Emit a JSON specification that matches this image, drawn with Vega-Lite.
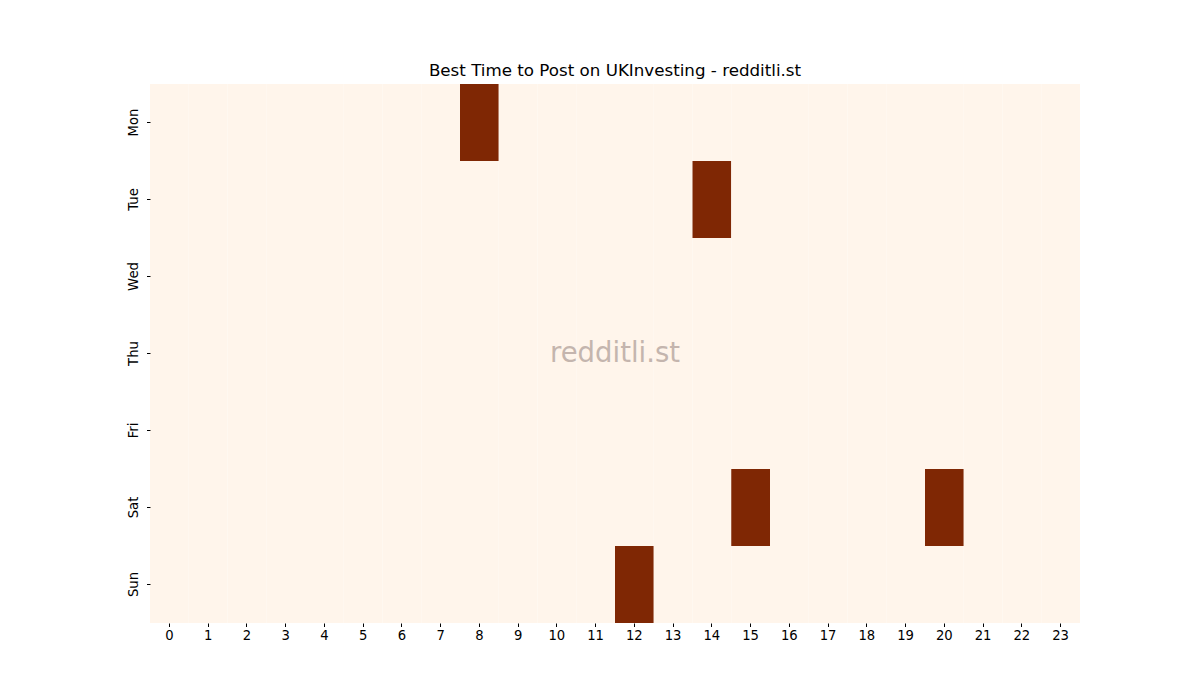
{
  "$schema": "https://vega.github.io/schema/vega-lite/v6.json",
  "autosize": {"type": "none"},
  "width": 930,
  "height": 539,
  "padding": {"left": 150, "top": 84, "right": 120, "bottom": 77},
  "background": "white",
  "title": {"text": "Best Time to Post on UKInvesting - redditli.st", "font": "DejaVu Sans", "fontSize": 16.7, "fontWeight": "normal", "color": "black", "offset": 4, "anchor": "middle"},
  "config": {
    "view": {"stroke": null},
    "axis": {"domain": false, "grid": false, "tickSize": 3.5, "tickColor": "black", "tickWidth": 1, "labelFont": "DejaVu Sans", "labelFontSize": 13.2, "labelColor": "black", "labelPadding": 3, "title": null}
  },
  "datasets": {
    "cells": [
    {"d":"Mon","h":0,"v":0},{"d":"Mon","h":1,"v":0},{"d":"Mon","h":2,"v":0},{"d":"Mon","h":3,"v":0},{"d":"Mon","h":4,"v":0},{"d":"Mon","h":5,"v":0},{"d":"Mon","h":6,"v":0},{"d":"Mon","h":7,"v":0},{"d":"Mon","h":8,"v":1},{"d":"Mon","h":9,"v":0},{"d":"Mon","h":10,"v":0},{"d":"Mon","h":11,"v":0},{"d":"Mon","h":12,"v":0},{"d":"Mon","h":13,"v":0},{"d":"Mon","h":14,"v":0},{"d":"Mon","h":15,"v":0},{"d":"Mon","h":16,"v":0},{"d":"Mon","h":17,"v":0},{"d":"Mon","h":18,"v":0},{"d":"Mon","h":19,"v":0},{"d":"Mon","h":20,"v":0},{"d":"Mon","h":21,"v":0},{"d":"Mon","h":22,"v":0},{"d":"Mon","h":23,"v":0},
    {"d":"Tue","h":0,"v":0},{"d":"Tue","h":1,"v":0},{"d":"Tue","h":2,"v":0},{"d":"Tue","h":3,"v":0},{"d":"Tue","h":4,"v":0},{"d":"Tue","h":5,"v":0},{"d":"Tue","h":6,"v":0},{"d":"Tue","h":7,"v":0},{"d":"Tue","h":8,"v":0},{"d":"Tue","h":9,"v":0},{"d":"Tue","h":10,"v":0},{"d":"Tue","h":11,"v":0},{"d":"Tue","h":12,"v":0},{"d":"Tue","h":13,"v":0},{"d":"Tue","h":14,"v":1},{"d":"Tue","h":15,"v":0},{"d":"Tue","h":16,"v":0},{"d":"Tue","h":17,"v":0},{"d":"Tue","h":18,"v":0},{"d":"Tue","h":19,"v":0},{"d":"Tue","h":20,"v":0},{"d":"Tue","h":21,"v":0},{"d":"Tue","h":22,"v":0},{"d":"Tue","h":23,"v":0},
    {"d":"Wed","h":0,"v":0},{"d":"Wed","h":1,"v":0},{"d":"Wed","h":2,"v":0},{"d":"Wed","h":3,"v":0},{"d":"Wed","h":4,"v":0},{"d":"Wed","h":5,"v":0},{"d":"Wed","h":6,"v":0},{"d":"Wed","h":7,"v":0},{"d":"Wed","h":8,"v":0},{"d":"Wed","h":9,"v":0},{"d":"Wed","h":10,"v":0},{"d":"Wed","h":11,"v":0},{"d":"Wed","h":12,"v":0},{"d":"Wed","h":13,"v":0},{"d":"Wed","h":14,"v":0},{"d":"Wed","h":15,"v":0},{"d":"Wed","h":16,"v":0},{"d":"Wed","h":17,"v":0},{"d":"Wed","h":18,"v":0},{"d":"Wed","h":19,"v":0},{"d":"Wed","h":20,"v":0},{"d":"Wed","h":21,"v":0},{"d":"Wed","h":22,"v":0},{"d":"Wed","h":23,"v":0},
    {"d":"Thu","h":0,"v":0},{"d":"Thu","h":1,"v":0},{"d":"Thu","h":2,"v":0},{"d":"Thu","h":3,"v":0},{"d":"Thu","h":4,"v":0},{"d":"Thu","h":5,"v":0},{"d":"Thu","h":6,"v":0},{"d":"Thu","h":7,"v":0},{"d":"Thu","h":8,"v":0},{"d":"Thu","h":9,"v":0},{"d":"Thu","h":10,"v":0},{"d":"Thu","h":11,"v":0},{"d":"Thu","h":12,"v":0},{"d":"Thu","h":13,"v":0},{"d":"Thu","h":14,"v":0},{"d":"Thu","h":15,"v":0},{"d":"Thu","h":16,"v":0},{"d":"Thu","h":17,"v":0},{"d":"Thu","h":18,"v":0},{"d":"Thu","h":19,"v":0},{"d":"Thu","h":20,"v":0},{"d":"Thu","h":21,"v":0},{"d":"Thu","h":22,"v":0},{"d":"Thu","h":23,"v":0},
    {"d":"Fri","h":0,"v":0},{"d":"Fri","h":1,"v":0},{"d":"Fri","h":2,"v":0},{"d":"Fri","h":3,"v":0},{"d":"Fri","h":4,"v":0},{"d":"Fri","h":5,"v":0},{"d":"Fri","h":6,"v":0},{"d":"Fri","h":7,"v":0},{"d":"Fri","h":8,"v":0},{"d":"Fri","h":9,"v":0},{"d":"Fri","h":10,"v":0},{"d":"Fri","h":11,"v":0},{"d":"Fri","h":12,"v":0},{"d":"Fri","h":13,"v":0},{"d":"Fri","h":14,"v":0},{"d":"Fri","h":15,"v":0},{"d":"Fri","h":16,"v":0},{"d":"Fri","h":17,"v":0},{"d":"Fri","h":18,"v":0},{"d":"Fri","h":19,"v":0},{"d":"Fri","h":20,"v":0},{"d":"Fri","h":21,"v":0},{"d":"Fri","h":22,"v":0},{"d":"Fri","h":23,"v":0},
    {"d":"Sat","h":0,"v":0},{"d":"Sat","h":1,"v":0},{"d":"Sat","h":2,"v":0},{"d":"Sat","h":3,"v":0},{"d":"Sat","h":4,"v":0},{"d":"Sat","h":5,"v":0},{"d":"Sat","h":6,"v":0},{"d":"Sat","h":7,"v":0},{"d":"Sat","h":8,"v":0},{"d":"Sat","h":9,"v":0},{"d":"Sat","h":10,"v":0},{"d":"Sat","h":11,"v":0},{"d":"Sat","h":12,"v":0},{"d":"Sat","h":13,"v":0},{"d":"Sat","h":14,"v":0},{"d":"Sat","h":15,"v":1},{"d":"Sat","h":16,"v":0},{"d":"Sat","h":17,"v":0},{"d":"Sat","h":18,"v":0},{"d":"Sat","h":19,"v":0},{"d":"Sat","h":20,"v":1},{"d":"Sat","h":21,"v":0},{"d":"Sat","h":22,"v":0},{"d":"Sat","h":23,"v":0},
    {"d":"Sun","h":0,"v":0},{"d":"Sun","h":1,"v":0},{"d":"Sun","h":2,"v":0},{"d":"Sun","h":3,"v":0},{"d":"Sun","h":4,"v":0},{"d":"Sun","h":5,"v":0},{"d":"Sun","h":6,"v":0},{"d":"Sun","h":7,"v":0},{"d":"Sun","h":8,"v":0},{"d":"Sun","h":9,"v":0},{"d":"Sun","h":10,"v":0},{"d":"Sun","h":11,"v":0},{"d":"Sun","h":12,"v":1},{"d":"Sun","h":13,"v":0},{"d":"Sun","h":14,"v":0},{"d":"Sun","h":15,"v":0},{"d":"Sun","h":16,"v":0},{"d":"Sun","h":17,"v":0},{"d":"Sun","h":18,"v":0},{"d":"Sun","h":19,"v":0},{"d":"Sun","h":20,"v":0},{"d":"Sun","h":21,"v":0},{"d":"Sun","h":22,"v":0},{"d":"Sun","h":23,"v":0}
    ],
    "watermark": [{"label": "redditli.st"}]
  },
  "layer": [
    {
      "data": {"name": "cells"},
      "mark": {"type": "rect", "strokeWidth": 0},
      "encoding": {
        "x": {"field": "h", "type": "ordinal", "scale": {"paddingInner": 0, "paddingOuter": 0}, "axis": {"labelAngle": 0}},
        "y": {"field": "d", "type": "ordinal", "sort": ["Mon","Tue","Wed","Thu","Fri","Sat","Sun"], "scale": {"paddingInner": 0, "paddingOuter": 0}, "axis": {"labelAngle": 270, "labelAlign": "center", "labelBaseline": "bottom", "labelPadding": 6}},
        "color": {"field": "v", "type": "quantitative", "scale": {"domain": [0, 1], "range": ["#fff5eb", "#7f2704"]}, "legend": null}
      }
    },
    {
      "data": {"name": "watermark"},
      "mark": {"type": "text", "font": "DejaVu Sans", "fontSize": 27.5, "fontWeight": "normal", "color": "#c4b5ae", "align": "center", "baseline": "middle"},
      "encoding": {
        "text": {"field": "label"},
        "x": {"datum": 12, "type": "ordinal", "bandPosition": 0},
        "y": {"datum": "Thu", "type": "ordinal"}
      }
    }
  ]
}
